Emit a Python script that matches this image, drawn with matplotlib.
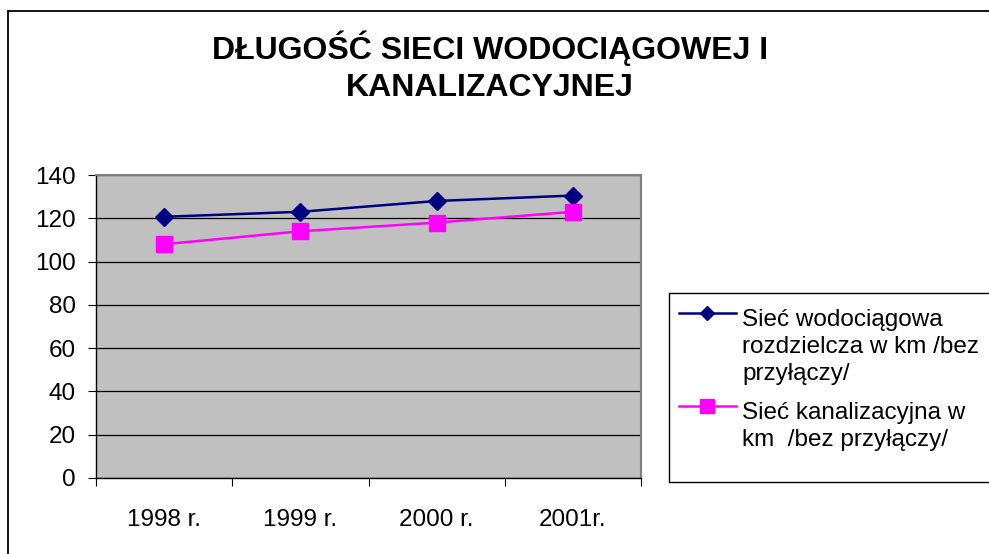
import numpy as np, matplotlib; matplotlib.use("Agg")
import matplotlib.pyplot as plt
from matplotlib.patches import Rectangle
from matplotlib.lines import Line2D

plt.rcParams['font.family'] = ['Liberation Sans', 'DejaVu Sans']

years = ["1998 r.", "1999 r.", "2000 r.", "2001r."]
wod = [120.7, 123.0, 128.0, 130.5]
kan = [108.0, 114.0, 118.0, 123.0]
lab_wod = "Sieć wodociągowa\nrozdzielcza w km /bez\nprzyłączy/"
lab_kan = "Sieć kanalizacyjna w\nkm  /bez przyłączy/"
title = "DŁUGOŚĆ SIECI WODOCIĄGOWEJ I\nKANALIZACYJNEJ"
c_wod, c_kan = '#000080', '#ff00ff'

W, H = 989, 554
fig = plt.figure(figsize=(W/100, H/100), dpi=100)
# outer chart frame
fig.patches.append(Rectangle((8/W, -0.1), 1.1, (H-11)/H + 0.1, transform=fig.transFigure,
                             fill=False, ec='black', lw=1.3))
# legend frame
fig.patches.append(Rectangle((669/W, (H-482)/H), 1.0, (482-293)/H, transform=fig.transFigure,
                             fill=False, ec='black', lw=1.0))

ax = fig.add_axes([96/W, (H-478)/H, (641-96)/W, (478-175)/H])
ax.set_facecolor('#c0c0c0')
x = np.arange(len(years))
ax.plot(x, wod, color=c_wod, lw=1.8, marker='D', ms=9, zorder=3)
ax.plot(x, kan, color=c_kan, lw=1.8, marker='s', ms=11, zorder=3)
ax.set_xlim(-0.5, 3.5); ax.set_ylim(0, 140)
ax.set_yticks(range(0, 141, 20))
ax.yaxis.grid(True, color='black', lw=0.9)
ax.set_axisbelow(True)
ax.set_xticks(np.arange(-0.5, 3.6, 1))
ax.set_xticklabels([])
ax.set_xticks(x, minor=True)
ax.set_xticklabels(years, minor=True)
ax.tick_params(axis='x', which='minor', length=0, pad=22, labelsize=17.5)
ax.tick_params(axis='x', which='major', length=6, direction='out')
ax.tick_params(axis='y', length=6, direction='out', labelsize=17.5, pad=8.5)
for s in ['top', 'right']:
    ax.spines[s].set_color('#808080'); ax.spines[s].set_linewidth(1.5)
for s in ['left', 'bottom']:
    ax.spines[s].set_color('black'); ax.spines[s].set_linewidth(1.0)

fig.text(490/W, 1-66.5/H, title, ha='center', va='center', fontsize=23,
         fontweight='bold', linespacing=1.3)

# legend drawn by hand so the key sits on the first text line
for lab, col, mk, ms, yc in [(lab_wod, c_wod, 'D', 7.5, 313), (lab_kan, c_kan, 's', 10, 406)]:
    fig.lines.append(Line2D([679/W, 736/W], [1-yc/H]*2, transform=fig.transFigure,
                            color=col, lw=1.8))
    fig.lines.append(Line2D([707/W], [1-yc/H], transform=fig.transFigure,
                            color=col, marker=mk, ms=ms, ls='none'))
    fig.text(742/W, 1-(yc-4)/H, lab, ha='left', va='top', fontsize=17.5, linespacing=1.28)

plt.savefig("out.png", dpi=100)
